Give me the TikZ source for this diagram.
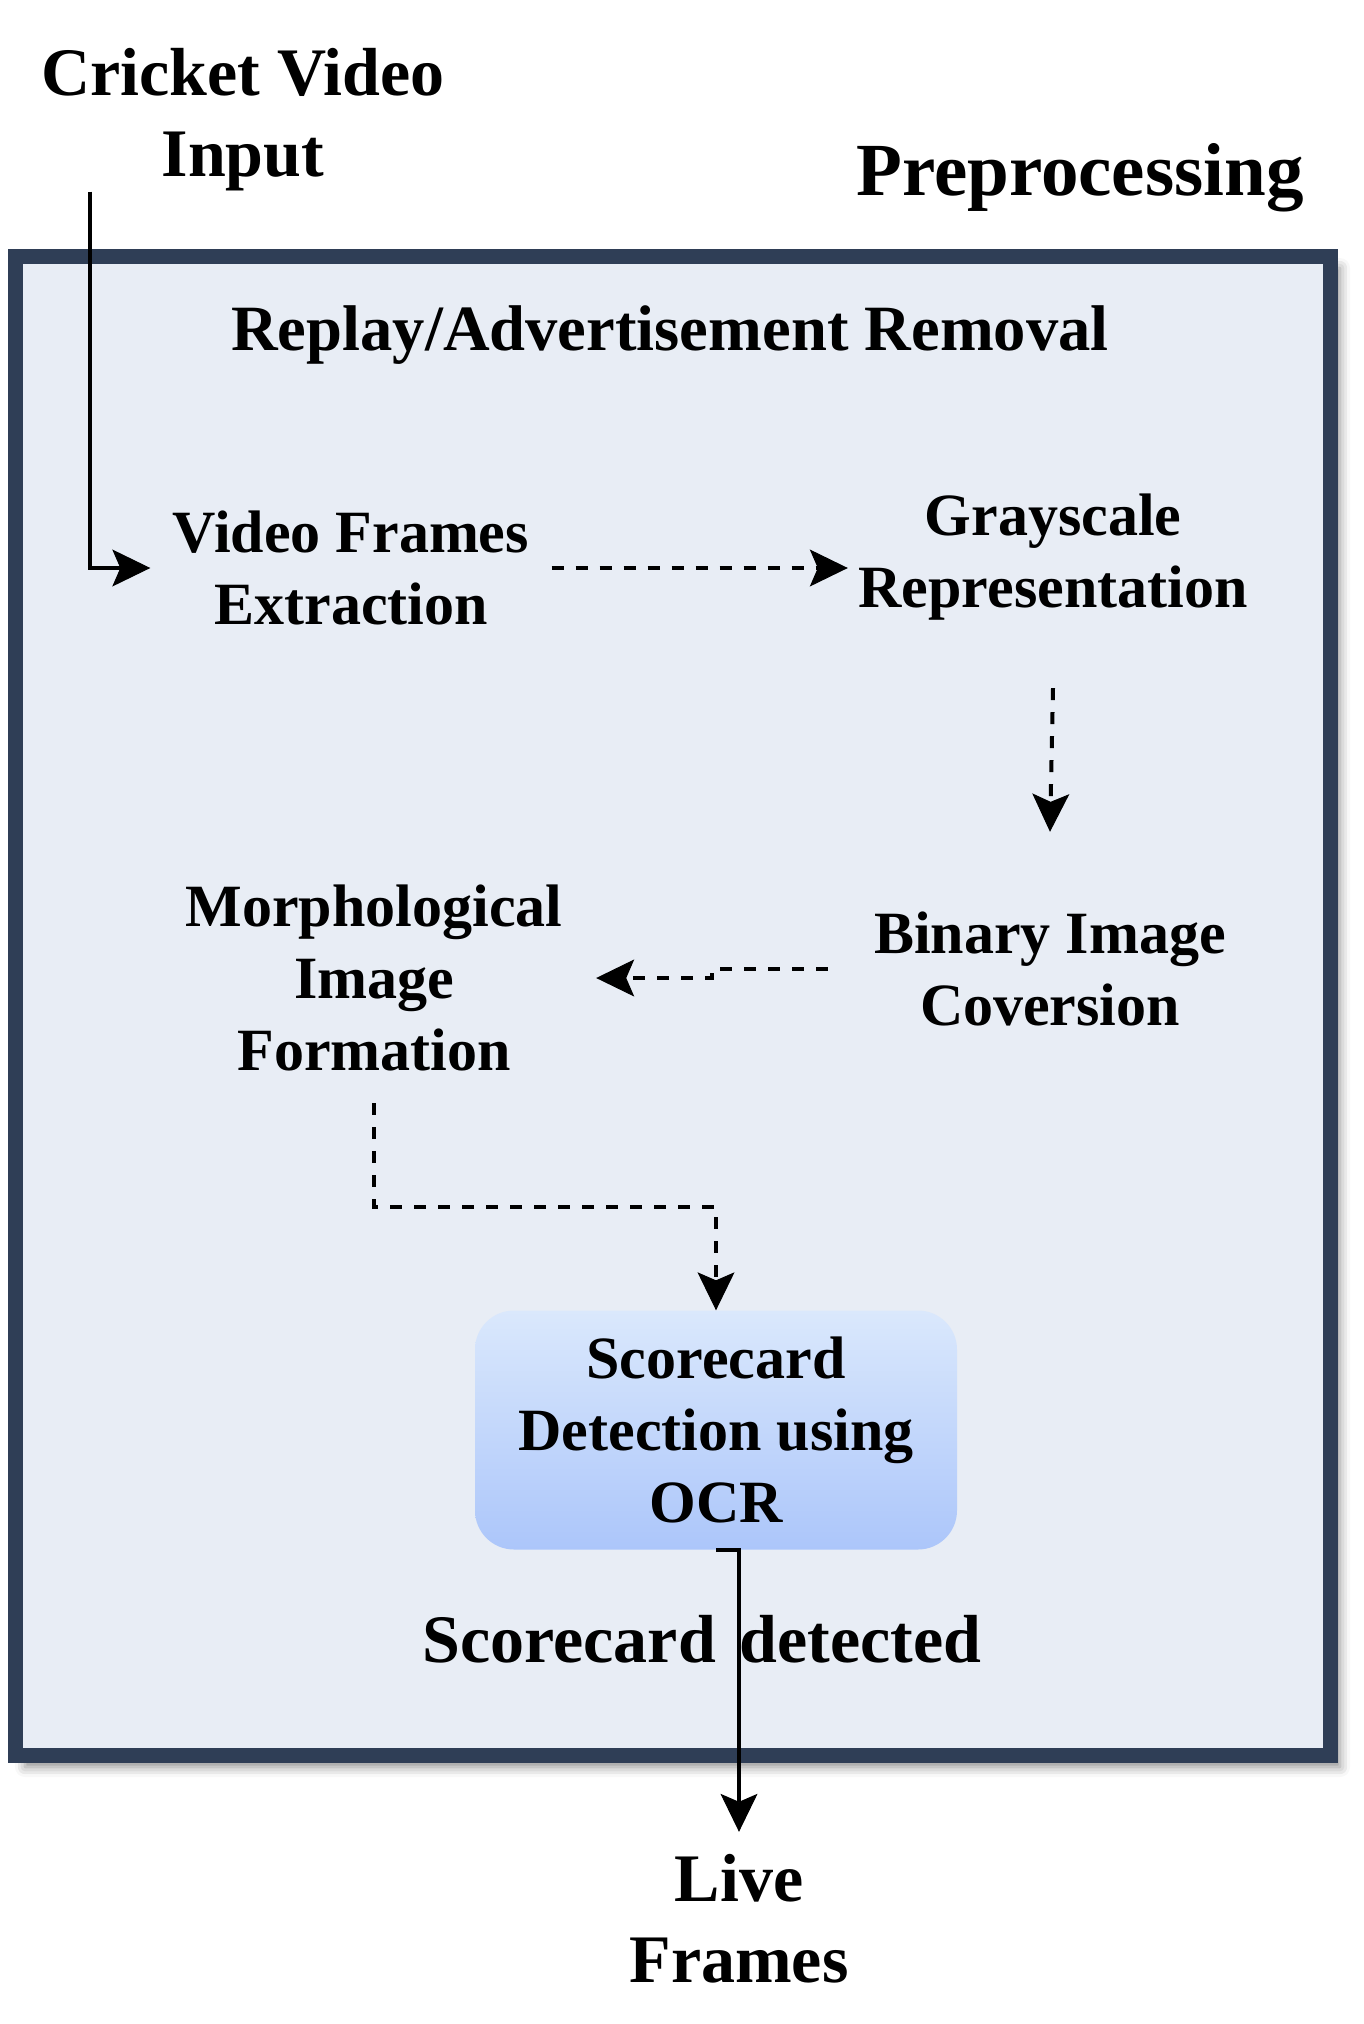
\documentclass[tikz,border=0pt]{standalone}
\usepackage{fontspec}
\setmainfont{Liberation Serif}
\usetikzlibrary{arrows.meta,calc,shadows.blur}
\definecolor{framec}{RGB}{47,62,86}
\definecolor{panelc}{RGB}{232,237,245}
\definecolor{boxtop}{RGB}{218,232,252}
\definecolor{boxbot}{RGB}{172,198,250}
\tikzset{
  lbl/.style={align=center,inner sep=0pt,font=\bfseries\fontsize{60}{72}\selectfont},
  outlbl/.style={align=center,inner sep=0pt,font=\bfseries\fontsize{68}{81}\selectfont},
  tipend/.style={-{Stealth[length=38pt,width=37pt,inset=8pt,line width=1pt,fill=black]}},
  dashconn/.style={line width=4pt,dash pattern=on 12pt off 12pt,tipend},
  solidconn/.style={line width=4pt,tipend},
}
\begin{document}
\begin{tikzpicture}[x=1pt,y=-1pt]
\useasboundingbox (0,0) rectangle (1364,2024);
% outer panel
\draw[line width=15pt,draw=framec,fill=panelc,
  blur shadow={shadow xshift=10pt,shadow yshift=-12pt,shadow blur radius=10pt,shadow opacity=45}]
  (15,256) rectangle (1330,1755);
% labels outside
\node[outlbl,minimum height=126pt] (cvi) at (243,120) {Cricket Video\\Input};
\node[align=center,inner sep=0pt,font=\bfseries\fontsize{75}{90}\selectfont] (pre) at (1080,178) {Preprocessing};
% inside
\node[align=center,inner sep=0pt,font=\bfseries\fontsize{64.6}{76}\selectfont] (rep) at (670,335) {Replay/Advertisement Removal};
\node[lbl,minimum width=401pt,minimum height=140pt] (vfe) at (351,568) {Video Frames\\Extraction};
\node[lbl,minimum width=410pt,minimum height=262pt] (gray) at (1053,557) {Grayscale\\Representation};
\node[lbl,minimum width=444pt,minimum height=274pt] (bin) at (1050,969) {Binary Image\\Coversion};
\node[lbl,minimum width=444pt,minimum height=250pt] (morph) at (374,978) {Morphological\\Image\\Formation};
\node[lbl,minimum width=482pt,minimum height=239pt,rounded corners=39pt,top color=boxtop,bottom color=boxbot] (score) at (716,1430) {Scorecard\\Detection using\\OCR};
\node[outlbl] (det) at (702,1639) {Scorecard\hspace{0.1em} detected};
\node[outlbl,minimum height=174pt] (live) at (739,1919) {Live\\Frames};
% connectors
\draw[solidconn] ([xshift=-153pt]cvi.south) |- (vfe.west);
\draw[dashconn] (vfe.east) -- (vfe.east -| gray.west);
\draw[dashconn] (gray.south) -- (bin.north);
\draw[dashconn] (bin.west) -| ($(bin.west)!0.5!(morph.east)$) |- (morph.east);
\draw[dashconn] (morph.south) |- ($(morph.south)!0.5!(score.north)$) -| (score.north);
\draw[solidconn] (score.south) -| (live.north);
\end{tikzpicture}
\end{document}
